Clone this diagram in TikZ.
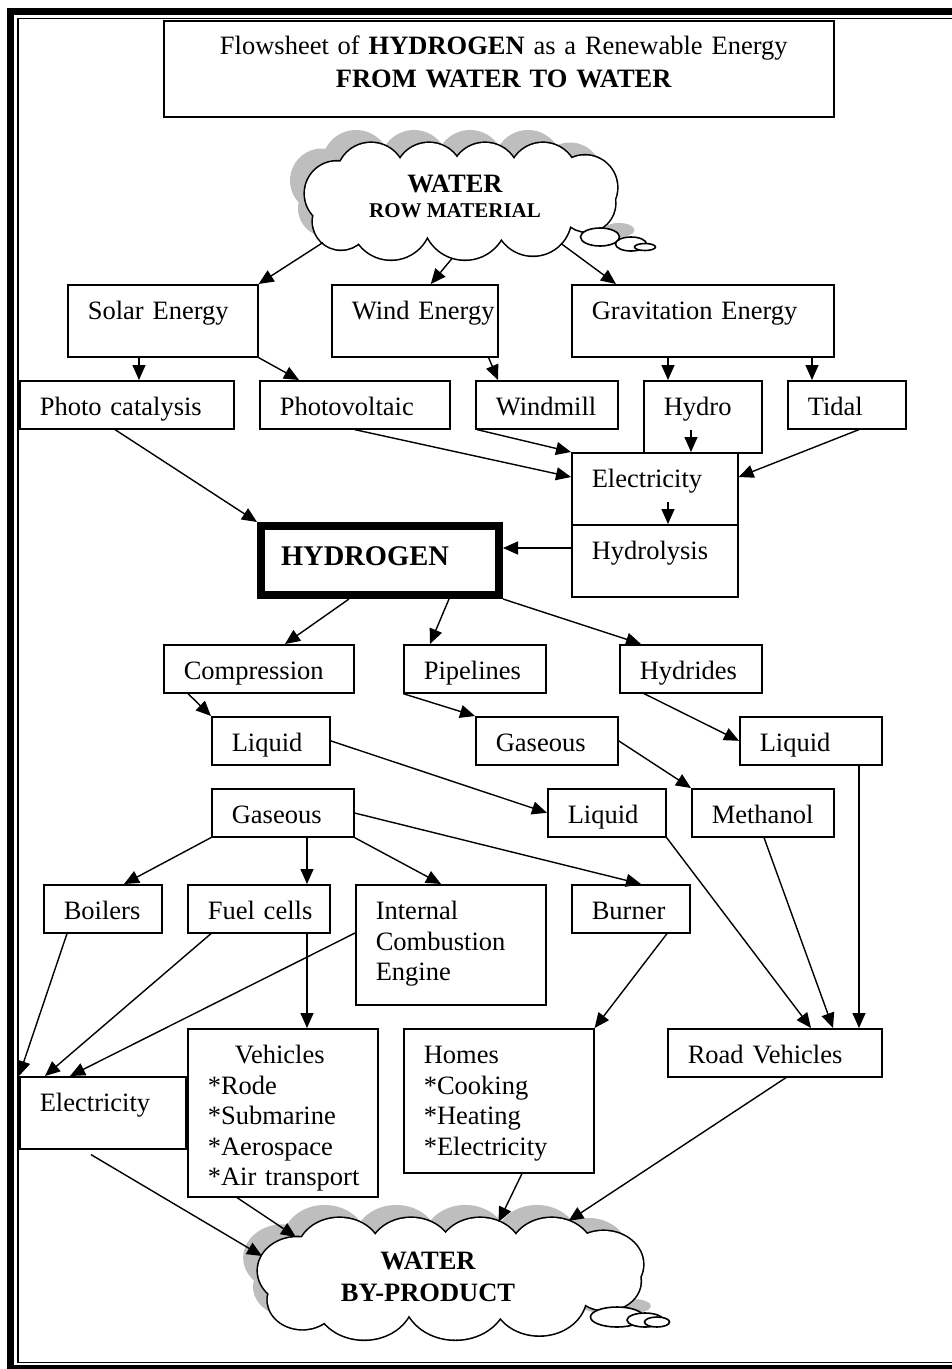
\documentclass[tikz,border=0pt]{standalone}
\usepackage{fontspec}
\setmainfont{Liberation Serif}
\usetikzlibrary{arrows.meta}
\definecolor{Shade}{RGB}{190,190,190}
\newcommand\cloudpuffs{(-90,-24.5) circle (34) (-32,-24.5) circle (34) (24,-24.5) circle (34) (82,-24.5) circle (34) (124,-14) circle (32) (126,2) circle (28) (72,16) circle (38) (4,16) circle (42) (-70,18) circle (40) (-120,20) circle (28) (-124,-8) circle (32) (0,0) ellipse (118 and 24)}

\begin{document}
\begin{tikzpicture}[x=1pt,y=-1pt,
  box/.style={draw,line width=1.6pt,anchor=north west,inner xsep=0pt,inner ysep=0pt,text height=35pt,align=left,execute at begin node={\leftskip=20pt},font=\fontsize{26.5}{30.5}\selectfont},
  bubble/.style={draw,line width=1.6pt,fill=white},
  flow/.style={-{Triangle[length=15pt,width=13pt]},line width=1.4pt}]
\useasboundingbox (0,0) rectangle (952,1369);
\draw[line width=7pt] (952,11.5) -- (10.5,11.5) -- (10.5,1368.5) -- (952,1368.5);
\draw[line width=1.6pt] (952,18.5) -- (17.8,18.5) -- (17.8,1362.5) -- (952,1362.5);
\node[box,text width=670pt,execute at begin node={\leftskip=10pt plus 1fil\rightskip=0pt plus 1fil\parfillskip=0pt},text height=34pt,text depth=62pt] (title) at (163,20) {Flowsheet of \textbf{HYDROGEN} as a Renewable Energy\\[2pt]\textbf{FROM WATER TO WATER}};
% clouds
\fill[Shade,shift={(-12,-14)}] (600,237) ellipse (19.5 and 9) (631,244) ellipse (15.5 and 7);
\begin{scope}[shift={(461,201.5)}]
  \fill[Shade,shift={(-15,-13)}] \cloudpuffs;
  \draw[line width=3.2pt] \cloudpuffs;
  \fill[white] \cloudpuffs;
\end{scope}
\draw[bubble] (600,237) ellipse (19.5 and 9);
\draw[bubble] (631,244) ellipse (15.5 and 7);
\draw[bubble] (645,247) ellipse (10.5 and 3.5);
\coordinate (wtop) at (461,201.5);
\node[font=\bfseries\fontsize{26.5}{25}\selectfont,align=center] (wtoptext) at (455,196) {WATER\\{\fontsize{21}{25}\selectfont ROW MATERIAL}};
\fill[Shade,shift={(-12,-14)}] (617,1317) ellipse (26.5 and 10) (645,1320) ellipse (18 and 7);
\begin{scope}[shift={(450.5,1279)},xscale=1.234,yscale=1.043]
  \fill[Shade,shift={(-12,-12.5)}] \cloudpuffs;
  \draw[line width=3.2pt] \cloudpuffs;
  \fill[white] \cloudpuffs;
\end{scope}
\draw[bubble] (617,1317) ellipse (26.5 and 10);
\draw[bubble] (645,1320) ellipse (18 and 7);
\draw[bubble] (657,1322) ellipse (12.5 and 5);
\coordinate (wbot) at (450.5,1279);
\node[font=\bfseries\fontsize{26.5}{32}\selectfont,align=center] (wbottext) at (428,1277) {WATER\\BY-PRODUCT};
% boxes
\node[box,text width=190pt,text depth=37pt] (solar) at (67,284) {Solar Energy};
\node[box,text width=166pt,text depth=37pt] (wind) at (331,284) {Wind Energy};
\node[box,text width=262pt,text depth=37pt] (grav) at (571,284) {Gravitation Energy};
\node[box,text width=214pt,text depth=13pt] (photocat) at (19,380) {Photo catalysis};
\node[box,text width=190pt,text depth=13pt] (photovolt) at (259,380) {Photovoltaic};
\node[box,text width=142pt,text depth=13pt] (windmill) at (475,380) {Windmill};
\node[box,text width=118pt,text depth=37pt] (hydro) at (643,380) {Hydro};
\node[box,text width=118pt,text depth=13pt] (tidal) at (787,380) {Tidal};
\node[box,text width=166pt,text depth=37pt] (elec) at (571,452) {Electricity};
\node[box,text width=166pt,text depth=37pt] (hydrolysis) at (571,524) {Hydrolysis};
\node[box,line width=8pt,text width=238pt,text height=39pt,text depth=30pt,font=\bfseries\fontsize{28.5}{30}\selectfont] (hydrogen) at (257,522) {HYDROGEN};
\node[box,text width=190pt,text depth=13pt] (compression) at (163,644) {Compression};
\node[box,text width=142pt,text depth=13pt] (pipelines) at (403,644) {Pipelines};
\node[box,text width=142pt,text depth=13pt] (hydrides) at (619,644) {Hydrides};
\node[box,text width=118pt,text depth=13pt] (liquidA) at (211,716) {Liquid};
\node[box,text width=142pt,text depth=13pt] (gaseousA) at (475,716) {Gaseous};
\node[box,text width=142pt,text depth=13pt] (liquidB) at (739,716) {Liquid};
\node[box,text width=142pt,text depth=13pt] (gaseousB) at (211,788) {Gaseous};
\node[box,text width=118pt,text depth=13pt] (liquidC) at (547,788) {Liquid};
\node[box,text width=142pt,text depth=13pt] (methanol) at (691,788) {Methanol};
\node[box,text width=118pt,text depth=13pt] (boilers) at (43,884) {Boilers};
\node[box,text width=142pt,text depth=13pt] (fuelcells) at (187,884) {Fuel cells};
\node[box,text width=190pt,text depth=85pt] (ice) at (355,884) {Internal\\Combustion\\Engine};
\node[box,text width=118pt,text depth=13pt] (burner) at (571,884) {Burner};
\node[box,text width=166pt,text depth=37pt] (elec2) at (19,1076) {Electricity};
\node[box,text width=190pt,text depth=133pt] (vehicles) at (187,1028) {\hspace*{27pt}Vehicles\\{}*Rode\\{}*Submarine\\{}*Aerospace\\{}*Air transport};
\node[box,text width=190pt,text depth=109pt] (homes) at (403,1028) {Homes\\{}*Cooking\\{}*Heating\\{}*Electricity};
\node[box,text width=214pt,text depth=13pt] (roadveh) at (667,1028) {Road Vehicles};
% connectors
\draw[flow] ([xshift=-138pt,yshift=-41pt]wtop) -- (solar.north east);
\draw[flow] ([xshift=-9pt,yshift=-57pt]wtop) -- ([xshift=16pt]wind.north);
\draw[flow] ([xshift=100pt,yshift=-42pt]wtop) -- ([xshift=45pt]grav.north west);
\draw[flow] ([xshift=72pt]solar.south west) -- ([xshift=120pt]photocat.north west);
\draw[flow] (solar.south east) -- ([xshift=40pt]photovolt.north west);
\draw[flow] ([xshift=-10pt]wind.south east) -- ([xshift=23pt]windmill.north west);
\draw[flow] ([xshift=97pt]grav.south west) -- ([xshift=25pt]hydro.north west);
\draw[flow] ([xshift=241pt]grav.south west) -- ([xshift=25pt]tidal.north west);
\draw[flow] ([xshift=96pt]photocat.south west) -- (hydrogen.north west);
\draw[flow] ([xshift=-96pt]photovolt.south east) -- ([yshift=-25pt]elec.north west);
\draw[flow] ([xshift=2pt]windmill.south west) -- (elec.north west);
\draw[flow] ([xshift=48pt,yshift=24pt]hydro.south west) -- ([xshift=120pt]elec.north west);
\draw[flow] ([xshift=72pt]tidal.south west) -- ([yshift=-25pt]elec.north east);
\draw[flow] ([xshift=97pt,yshift=24pt]elec.south west) -- ([xshift=97pt]hydrolysis.north west);
\draw[flow] ([yshift=-24pt]hydrolysis.north west) -- ([yshift=-24pt]hydrolysis.north west -| hydrogen.east);
\draw[flow] ([xshift=92pt]hydrogen.south west) -- ([xshift=122pt]compression.north west);
\draw[flow] ([xshift=192pt]hydrogen.south west) -- ([xshift=27pt]pipelines.north west);
\draw[flow] (hydrogen.south east) -- ([xshift=22pt]hydrides.north west);
\draw[flow] ([xshift=25pt]compression.south west) -- (liquidA.north west);
\draw[flow] (pipelines.south west) -- (gaseousA.north west);
\draw[flow] ([xshift=25pt]hydrides.south west) -- (liquidB.west);
\draw[flow] (liquidA.east) -- (liquidC.west);
\draw[flow] (gaseousA.east) -- (methanol.north west);
\draw[flow] ([xshift=120pt]liquidB.south west) -- ([xshift=192pt]roadveh.north west);
\draw[flow] (gaseousB.south west) -- ([xshift=81pt]boilers.north west);
\draw[flow] ([xshift=96pt]gaseousB.south west) -- ([xshift=120pt]fuelcells.north west);
\draw[flow] (gaseousB.south east) -- ([xshift=86pt]ice.north west);
\draw[flow] ([yshift=-25pt]gaseousB.north east) -- ([xshift=70pt]burner.north west);
\draw[flow] (liquidC.south east) -- ([xshift=144pt]roadveh.north west);
\draw[flow] ([xshift=73pt]methanol.south west) -- ([xshift=166pt]roadveh.north west);
\draw[flow] ([xshift=24pt]boilers.south west) -- (elec2.north west);
\draw[flow] ([xshift=24pt]fuelcells.south west) -- ([xshift=26pt]elec2.north west);
\draw[flow] ([yshift=-49pt]ice.north west) -- ([xshift=51pt]elec2.north west);
\draw[flow] ([xshift=120pt]fuelcells.south west) -- ([xshift=120pt]vehicles.north west);
\draw[flow] ([xshift=96pt]burner.south west) -- (homes.north east);
\draw[flow] ([xshift=72pt,yshift=-5pt]elec2.south west) -- ([xshift=-188.5pt,yshift=23pt]wbot);
\draw[flow] ([xshift=50pt]vehicles.south west) -- ([xshift=-154.5pt,yshift=42pt]wbot);
\draw[flow] ([xshift=119pt]homes.south west) -- ([xshift=48pt,yshift=57pt]wbot);
\draw[flow] ([xshift=119pt]roadveh.south west) -- ([xshift=118pt,yshift=58pt]wbot);
\end{tikzpicture}
\end{document}
